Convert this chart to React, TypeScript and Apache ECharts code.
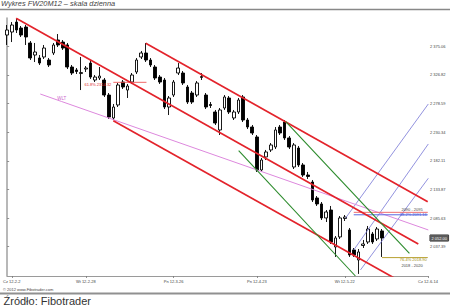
import React, { useEffect, useRef } from "react";
import * as echarts from "echarts";

const titleText = "Wykres FW20M12 – skala dzienna";
const sourceText = "Źródło: Fibotrader";
const copyrightText = "© 2012 www.Fibotrader.com";

const dateLabels = ["Cz 12-2-2", "Wt 12-2-28", "Pn 12-3-26", "Pn 12-4-23", "Wt 12-5-22", "Cz 12-6-14"];
const dateLabelSlots = [1, 17, 36, 54, 73, 91];
const slotCount = 92;

const priceTicks = [2037.39, 2085.63, 2133.87, 2182.11, 2230.34, 2278.59, 2326.82, 2375.06];
const priceMin = 1988.0;
const priceMax = 2422.8;

// [open, close, low, high]
const candles: number[][] = [
  [2394.1, 2402.6, 2377.3, 2411.0],
  [2399.2, 2411.0, 2382.3, 2416.0],
  [2416.0, 2402.6, 2397.5, 2421.1],
  [2405.9, 2394.1, 2390.8, 2409.3],
  [2407.6, 2390.8, 2377.3, 2411.0],
  [2380.7, 2355.4, 2352.0, 2384.0],
  [2360.4, 2365.5, 2348.6, 2380.7],
  [2355.4, 2346.9, 2343.6, 2360.4],
  [2357.1, 2372.2, 2353.7, 2377.3],
  [2352.0, 2343.6, 2340.2, 2355.4],
  [2363.8, 2377.3, 2360.4, 2380.7],
  [2385.7, 2377.3, 2373.9, 2395.8],
  [2382.3, 2372.2, 2368.9, 2385.7],
  [2377.3, 2340.2, 2336.8, 2380.7],
  [2340.2, 2330.1, 2326.7, 2343.6],
  [2335.2, 2332.6, 2328.4, 2338.5],
  [2329.2, 2330.9, 2301.4, 2357.1],
  [2336.8, 2338.5, 2331.8, 2341.9],
  [2346.9, 2323.3, 2320.0, 2352.0],
  [2318.3, 2323.3, 2314.9, 2326.7],
  [2321.7, 2325.0, 2318.3, 2340.2],
  [2318.3, 2293.0, 2289.7, 2321.7],
  [2293.0, 2255.9, 2252.6, 2296.4],
  [2254.3, 2272.8, 2250.9, 2277.9],
  [2276.2, 2309.9, 2272.8, 2313.3],
  [2314.9, 2306.5, 2303.1, 2318.3],
  [2301.4, 2308.2, 2288.0, 2311.6],
  [2314.9, 2326.7, 2311.6, 2330.1],
  [2331.8, 2352.0, 2328.4, 2355.4],
  [2357.1, 2363.8, 2353.7, 2367.2],
  [2363.8, 2352.0, 2348.6, 2380.7],
  [2352.0, 2343.6, 2340.2, 2355.4],
  [2340.2, 2321.7, 2318.3, 2343.6],
  [2323.3, 2314.9, 2311.6, 2326.7],
  [2318.3, 2272.8, 2269.4, 2321.7],
  [2272.8, 2288.0, 2259.3, 2291.3],
  [2293.0, 2314.9, 2289.7, 2318.3],
  [2330.1, 2338.5, 2326.7, 2346.9],
  [2330.1, 2313.3, 2309.9, 2333.5],
  [2306.5, 2281.2, 2277.9, 2309.9],
  [2296.4, 2281.2, 2277.9, 2299.8],
  [2293.0, 2313.3, 2289.7, 2316.6],
  [2322.5, 2324.2, 2318.3, 2330.1],
  [2293.0, 2272.8, 2269.4, 2296.4],
  [2277.0, 2275.3, 2271.1, 2281.2],
  [2264.4, 2245.8, 2242.5, 2267.8],
  [2234.1, 2267.8, 2225.6, 2271.1],
  [2271.1, 2289.7, 2267.8, 2293.0],
  [2288.0, 2264.4, 2261.0, 2291.3],
  [2254.3, 2264.4, 2250.9, 2267.8],
  [2264.4, 2284.6, 2261.0, 2288.0],
  [2289.7, 2250.9, 2247.5, 2293.0],
  [2250.9, 2239.1, 2235.7, 2254.3],
  [2239.1, 2229.0, 2225.6, 2242.5],
  [2222.3, 2166.7, 2163.3, 2225.6],
  [2166.7, 2183.5, 2163.3, 2186.9],
  [2188.6, 2197.0, 2183.5, 2200.4],
  [2200.4, 2208.8, 2197.0, 2212.1],
  [2205.4, 2234.1, 2202.0, 2239.1],
  [2239.1, 2229.0, 2225.6, 2242.5],
  [2247.5, 2220.6, 2217.2, 2250.9],
  [2220.6, 2205.4, 2202.0, 2223.9],
  [2171.7, 2208.8, 2168.3, 2212.1],
  [2203.7, 2175.1, 2171.7, 2207.1],
  [2175.1, 2158.2, 2154.9, 2178.4],
  [2158.2, 2155.7, 2151.5, 2163.3],
  [2146.4, 2116.1, 2112.7, 2149.8],
  [2119.5, 2109.4, 2106.0, 2122.8],
  [2109.4, 2085.8, 2082.4, 2112.7],
  [2085.8, 2095.9, 2079.0, 2099.2],
  [2099.2, 2045.3, 2042.0, 2106.0],
  [2036.9, 2052.1, 2020.1, 2055.4],
  [2053.8, 2085.8, 2050.4, 2089.1],
  [2084.9, 2087.4, 2080.7, 2090.8],
  [2065.6, 2023.4, 2020.1, 2068.9],
  [2031.9, 2023.4, 2020.1, 2035.2],
  [2015.0, 2028.5, 1991.5, 2033.5],
  [2039.4, 2042.0, 2035.2, 2048.7],
  [2045.3, 2067.2, 2042.0, 2072.3],
  [2058.8, 2045.3, 2042.0, 2062.2],
  [2050.4, 2067.2, 2047.0, 2070.6],
  [2063.9, 2052.0, 2020.1, 2067.2],
];

// trend lines: [[slot, price], [slot, price]]
const redLines = [
  [[1.94, 2422.3], [88.9, 2042.0]],
  [[29.97, 2380.1], [90.94, 2113.2]],
  [[22.96, 2249.7], [85.0, 1979.0]],
];
const greenLines = [
  [[50.06, 2199.2], [75.3, 1988.0]],
  [[60.24, 2248.0], [86.98, 2026.3]],
];
const blueLines = [
  [[73.15, 2085.3], [91.07, 2277.9]],
  [[74.94, 2031.8], [91.07, 2210.5]],
  [[76.4, 1998.2], [91.07, 2152.7]],
];
const wltLine = [[7.16, 2294.7], [11.8, 2282.0], [91.07, 2065.6]];
const wltText = "WLT";

const fibRedFrom = 22.96;
const fibRedTo = 30.12;
const fibRedLevel = 2314.4;
const fibRedText = "61.8% 2314.32";

const upperZoneFrom = 74.94;
const upperZoneLevel = 2095.3;
const upperZoneText = "2090 - 2095";
const blueFibLevel = 2091.16;
const blueFibText = "38.2% 2091.16";
const lowerFibFrom = 81.04;
const lowerFibLevel = 2019.0;
const lowerFibText = "76.4% 2018.90";
const lowerZoneText = "2018 - 2020";
const levelEnd = 90.95;

const FONT = "'Liberation Sans', Arial, sans-serif";

function formatPrice(v: number): string {
  const th = Math.floor(v / 1000);
  const rest = (v - th * 1000).toFixed(2).padStart(6, "0");
  return `${th} ${rest}`;
}

function labeled(x: number, y: number, label: any) {
  return { value: [x, y], label: { show: true, fontSize: 4, fontFamily: FONT, ...label } };
}

function lineSeries(data: any[], color: string, width: number, z = 4) {
  return {
    type: "line",
    xAxisIndex: 1,
    yAxisIndex: 0,
    data,
    symbol: "circle",
    symbolSize: 1,
    showSymbol: true,
    itemStyle: { color: "rgba(0,0,0,0)" },
    lineStyle: { color, width },
    silent: true,
    clip: true,
    z,
    emphasis: { disabled: true },
  };
}

export default function App() {
  const ref = useRef<HTMLDivElement>(null);
  useEffect(() => {
    document.body.style.margin = "0";
    const chart = echarts.init(ref.current!, null, { renderer: "svg" });
    const labelSet = new Set(dateLabelSlots);
    const categories = Array.from({ length: slotCount }, (_, i) => `s${i}`);
    const lastClose = candles[candles.length - 1][1];

    const series: any[] = [
      {
        type: "candlestick",
        xAxisIndex: 0,
        yAxisIndex: 0,
        data: candles,
        barWidth: 3.2,
        clip: false,
        silent: true,
        z: 2,
        itemStyle: {
          color: "#ffffff",
          color0: "#000000",
          borderColor: "#000000",
          borderColor0: "#000000",
          borderWidth: 0.9,
        },
        markLine: {
          silent: true,
          symbol: ["none", "none"],
          lineStyle: { color: "rgba(0,0,0,0)", width: 1, type: "solid" },
          data: [{ yAxis: lastClose }],
          label: {
            show: true,
            position: "end",
            distance: 2,
            formatter: formatPrice(lastClose),
            fontSize: 4,
            fontFamily: FONT,
            color: "#ffffff",
            backgroundColor: "#5a5a5a",
            borderColor: "#222222",
            borderWidth: 0.5,
            padding: [1, 1.5],
          },
        },
      },
    ];

    redLines.forEach((l) => series.push(lineSeries(l, "#e3232b", 1.7, 5)));
    greenLines.forEach((l) => series.push(lineSeries(l, "#2a8a2a", 1.1, 5)));
    blueLines.forEach((l) => series.push(lineSeries(l, "#7676d6", 0.8, 4)));
    series.push(
      lineSeries(
        [
          wltLine[0],
          labeled(wltLine[1][0], wltLine[1][1], {
            position: "top",
            distance: 0.5,
            formatter: wltText,
            color: "#cc66cc",
            fontSize: 4.5,
          }),
          wltLine[2],
        ],
        "#dd88dd",
        1,
        4
      )
    );
    series.push(
      lineSeries(
        [
          labeled(fibRedFrom, fibRedLevel, {
            position: "left",
            distance: 1.5,
            offset: [0, 2.3],
            formatter: fibRedText,
            color: "#e03030",
          }),
          [fibRedTo, fibRedLevel],
        ],
        "#ee5555",
        0.9,
        4
      )
    );
    series.push(
      lineSeries(
        [
          [upperZoneFrom, upperZoneLevel],
          labeled(levelEnd, upperZoneLevel, {
            position: "left",
            distance: 4.5,
            offset: [0, -3],
            formatter: upperZoneText,
            color: "#444444",
          }),
        ],
        "#ee6f6f",
        1,
        4
      )
    );
    series.push(
      lineSeries(
        [
          [upperZoneFrom, blueFibLevel],
          labeled(levelEnd, blueFibLevel, {
            position: "left",
            distance: 0.5,
            offset: [0, 0],
            formatter: blueFibText,
            color: "#4a5ad8",
          }),
        ],
        "#5a6ae0",
        1,
        4
      )
    );
    series.push(
      lineSeries(
        [
          [lowerFibFrom, lowerFibLevel],
          labeled(levelEnd, lowerFibLevel, {
            position: "left",
            distance: 0.5,
            offset: [0, 1.8],
            formatter: lowerFibText,
            color: "#a08a10",
          }),
          labeled(levelEnd, lowerFibLevel, {
            position: "left",
            distance: 4.5,
            offset: [0, 8],
            formatter: lowerZoneText,
            color: "#444444",
          }),
        ],
        "#b8a030",
        1,
        4
      )
    );

    const option: any = {
      animation: false,
      backgroundColor: "#ffffff",
      textStyle: { fontFamily: FONT },
      title: {
        text: titleText,
        left: 1,
        top: 0,
        padding: 0,
        textStyle: { fontSize: 7.4, fontStyle: "italic", fontWeight: "normal", color: "#444444", fontFamily: FONT },
      },
      grid: { left: 5, right: 22, top: 18, bottom: 32, containLabel: false },
      xAxis: [
        {
          type: "category",
          data: categories,
          boundaryGap: false,
          axisLine: { lineStyle: { color: "#9a9a9a", width: 1 } },
          axisTick: {
            show: true,
            length: 2,
            interval: (i: number) => labelSet.has(i),
            lineStyle: { color: "#777777", width: 0.8 },
          },
          axisLabel: {
            interval: (i: number) => labelSet.has(i),
            formatter: (_v: string, i: number) => {
              const k = dateLabelSlots.indexOf(i);
              return k >= 0 ? dateLabels[k] : "";
            },
            fontSize: 4,
            color: "#444444",
            margin: 3,
            fontFamily: FONT,
          },
          splitLine: { show: false },
        },
        { type: "value", min: 0, max: slotCount - 1, show: false },
      ],
      yAxis: [
        {
          type: "value",
          position: "right",
          min: priceMin,
          max: priceMax,
          axisLine: { show: true, lineStyle: { color: "#a0a0a0", width: 1.5 } },
          axisTick: { show: true, length: 2, customValues: priceTicks, lineStyle: { color: "#777777", width: 0.8 } },
          axisLabel: {
            customValues: priceTicks,
            formatter: (v: number) => formatPrice(v),
            fontSize: 4,
            color: "#444444",
            margin: 2,
            fontFamily: FONT,
          },
          splitLine: { show: false },
        },
      ],
      graphic: [
        { type: "line", shape: { x1: 0, y1: 9.5, x2: 450, y2: 9.5 }, style: { stroke: "#888888", lineWidth: 1.5 }, silent: true },
        { type: "line", shape: { x1: 0, y1: 293.5, x2: 450, y2: 293.5 }, style: { stroke: "#909090", lineWidth: 2 }, silent: true },
        {
          type: "text",
          x: 3,
          y: 289.5,
          style: { text: copyrightText, fontSize: 4, fontFamily: FONT, fill: "#444444", verticalAlign: "middle" },
          silent: true,
        },
        {
          type: "text",
          x: 3.5,
          y: 300.8,
          style: { text: sourceText, fontSize: 11, fontFamily: FONT, fill: "#333333", verticalAlign: "middle" },
          silent: true,
        },
      ],
      series,
    };
    chart.setOption(option);
    return () => chart.dispose();
  }, []);
  return <div ref={ref} style={{ width: 450, height: 308 }} />;
}
